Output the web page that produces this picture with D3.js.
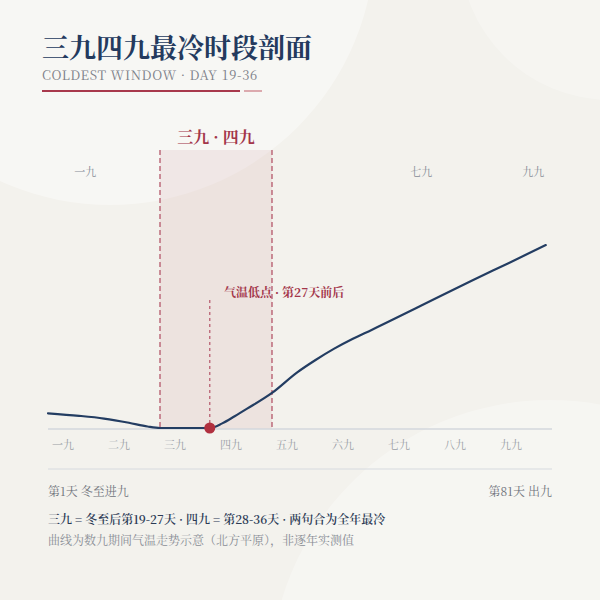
<!DOCTYPE html>
<html><head><meta charset="utf-8">
<script src="https://cdn.jsdelivr.net/npm/d3@7/dist/d3.min.js"></script>
<style>
html,body{margin:0;padding:0;background:#f3f2ed;}
svg{display:block;}
</style></head>
<body><div id="chart"></div>
<script>
// ---- data ----
const nineNames = ["一九","二九","三九","四九","五九","六九","七九","八九","九九"];
const nineStartDays = [1,10,19,28,37,46,55,64,73];
const topLabels = ["一九","七九","九九"];
const topLabelDays = [7,61,79];
const curveDays  = [1,6,10,14,17,19,23,27,29,31,33,37,41,44,47,50,53,61,69,75,81];
const curveTemps = [-6.3,-6.42,-6.55,-6.75,-6.93,-7,-7,-7,-6.78,-6.44,-6.08,-5.33,-4.36,-3.76,-3.22,-2.75,-2.33,-1.17,0.0,0.85,1.71];
const bandStartDay = 19, bandEndDay = 36;
const lowDay = 27, lowTemp = -7;
const title = "三九四九最冷时段剖面";
const subtitle = "COLDEST WINDOW · DAY 19-36";
const bandLabel = "三九 · 四九";
const lowLabel = "气温低点 · 第27天前后";
const footLeft = "第1天 冬至进九", footRight = "第81天 出九";
const note1 = "三九 = 冬至后第19-27天 · 四九 = 第28-36天 · 两句合为全年最冷";
const note2 = "曲线为数九期间气温走势示意（北方平原），非逐年实测值";

const W=600,H=600;
const serif = '"Noto Serif CJK SC","Source Han Serif SC","Liberation Serif","DejaVu Serif",serif';
const svg = d3.select("#chart").append("svg").attr("width",W).attr("height",H);

// background
svg.append("rect").attr("width",W).attr("height",H).attr("fill","#f3f2ed");
svg.append("circle").attr("cx",110).attr("cy",-60).attr("r",265).attr("fill","#ffffff").attr("opacity",0.38);
svg.append("circle").attr("cx",610).attr("cy",-50).attr("r",150).attr("fill","#ffffff").attr("opacity",0.25);
svg.append("circle").attr("cx",550).attr("cy",680).attr("r",280).attr("fill","#ffffff").attr("opacity",0.3);

// header
svg.append("text").attr("x",42).attr("y",58).text(title)
  .attr("font-family",serif).attr("font-size",27).attr("font-weight",700).attr("fill","#243a5e");
svg.append("text").attr("x",42).attr("y",80).text(subtitle)
  .attr("font-family",serif).attr("font-size",13).attr("letter-spacing",0.6).attr("fill","#7d8088");
svg.append("line").attr("x1",42).attr("x2",240).attr("y1",91).attr("y2",91).attr("stroke","#a8394c").attr("stroke-width",2);
svg.append("line").attr("x1",244).attr("x2",262).attr("y1",91).attr("y2",91).attr("stroke","#dcaaae").attr("stroke-width",2);

// scales
const x = d3.scaleLinear().domain([1,82]).range([48,552]);
const y = d3.scaleLinear().domain([-7,3]).range([428,218]);
const axisY = 429, bandTop = 150;

// band
const bx0 = x(bandStartDay), bx1 = x(bandEndDay+1);
svg.append("rect").attr("x",bx0).attr("y",bandTop).attr("width",bx1-bx0).attr("height",axisY-bandTop)
  .attr("fill","#b0404f").attr("opacity",0.085);
[bx0,bx1].forEach(v=>svg.append("line").attr("x1",v).attr("x2",v).attr("y1",bandTop).attr("y2",axisY)
  .attr("stroke","#b4576a").attr("stroke-width",1.3).attr("stroke-dasharray","5,3"));
svg.append("text").attr("x",(bx0+bx1)/2).attr("y",143).attr("text-anchor","middle").text(bandLabel)
  .attr("font-family",serif).attr("font-size",16).attr("font-weight",700).attr("fill","#a3364a");

// top labels
topLabels.forEach((t,i)=>svg.append("text").attr("x",x(topLabelDays[i])).attr("y",176).attr("text-anchor","middle")
  .text(t).attr("font-family",serif).attr("font-size",11).attr("fill","#868c96"));

// axis lines
svg.append("line").attr("x1",48).attr("x2",552).attr("y1",axisY).attr("y2",axisY).attr("stroke","#d3d7dc").attr("stroke-width",1.5);
svg.append("line").attr("x1",48).attr("x2",552).attr("y1",469).attr("y2",469).attr("stroke","#d6dadf").attr("stroke-width",1);

// tick labels
nineNames.forEach((t,i)=>svg.append("text").attr("x",x(nineStartDays[i])+4).attr("y",449)
  .text(t).attr("font-family",serif).attr("font-size",11).attr("fill","#9a9ea6"));

// low annotation line
svg.append("line").attr("x1",x(lowDay)).attr("x2",x(lowDay)).attr("y1",300).attr("y2",y(lowTemp))
  .attr("stroke","#b4576a").attr("stroke-width",1.2).attr("stroke-dasharray","3,3");
svg.append("text").attr("x",224).attr("y",297).text(lowLabel)
  .attr("font-family",serif).attr("font-size",12).attr("font-weight",700).attr("fill","#a3364a");

// curve
const pts = curveDays.map((d,i)=>[d,curveTemps[i]]);
const line = d3.line().x(d=>x(d[0])).y(d=>y(d[1])).curve(d3.curveMonotoneX);
svg.append("path").attr("d",line(pts)).attr("fill","none").attr("stroke","#233d62").attr("stroke-width",2.2).attr("stroke-linecap","round");

svg.append("circle").attr("cx",x(lowDay)).attr("cy",y(lowTemp)).attr("r",5.5).attr("fill","#b0303f");

// footer
svg.append("text").attr("x",48).attr("y",496).text(footLeft)
  .attr("font-family",serif).attr("font-size",12).attr("fill","#6f737b");
svg.append("text").attr("x",552).attr("y",496).attr("text-anchor","end").text(footRight)
  .attr("font-family",serif).attr("font-size",12).attr("fill","#6f737b");
svg.append("text").attr("x",48).attr("y",524).text(note1)
  .attr("font-family",serif).attr("font-size",12).attr("font-weight",600).attr("fill","#2b3a55");
svg.append("text").attr("x",48).attr("y",545).text(note2)
  .attr("font-family",serif).attr("font-size",12).attr("fill","#8a8e96");
</script></body></html>
